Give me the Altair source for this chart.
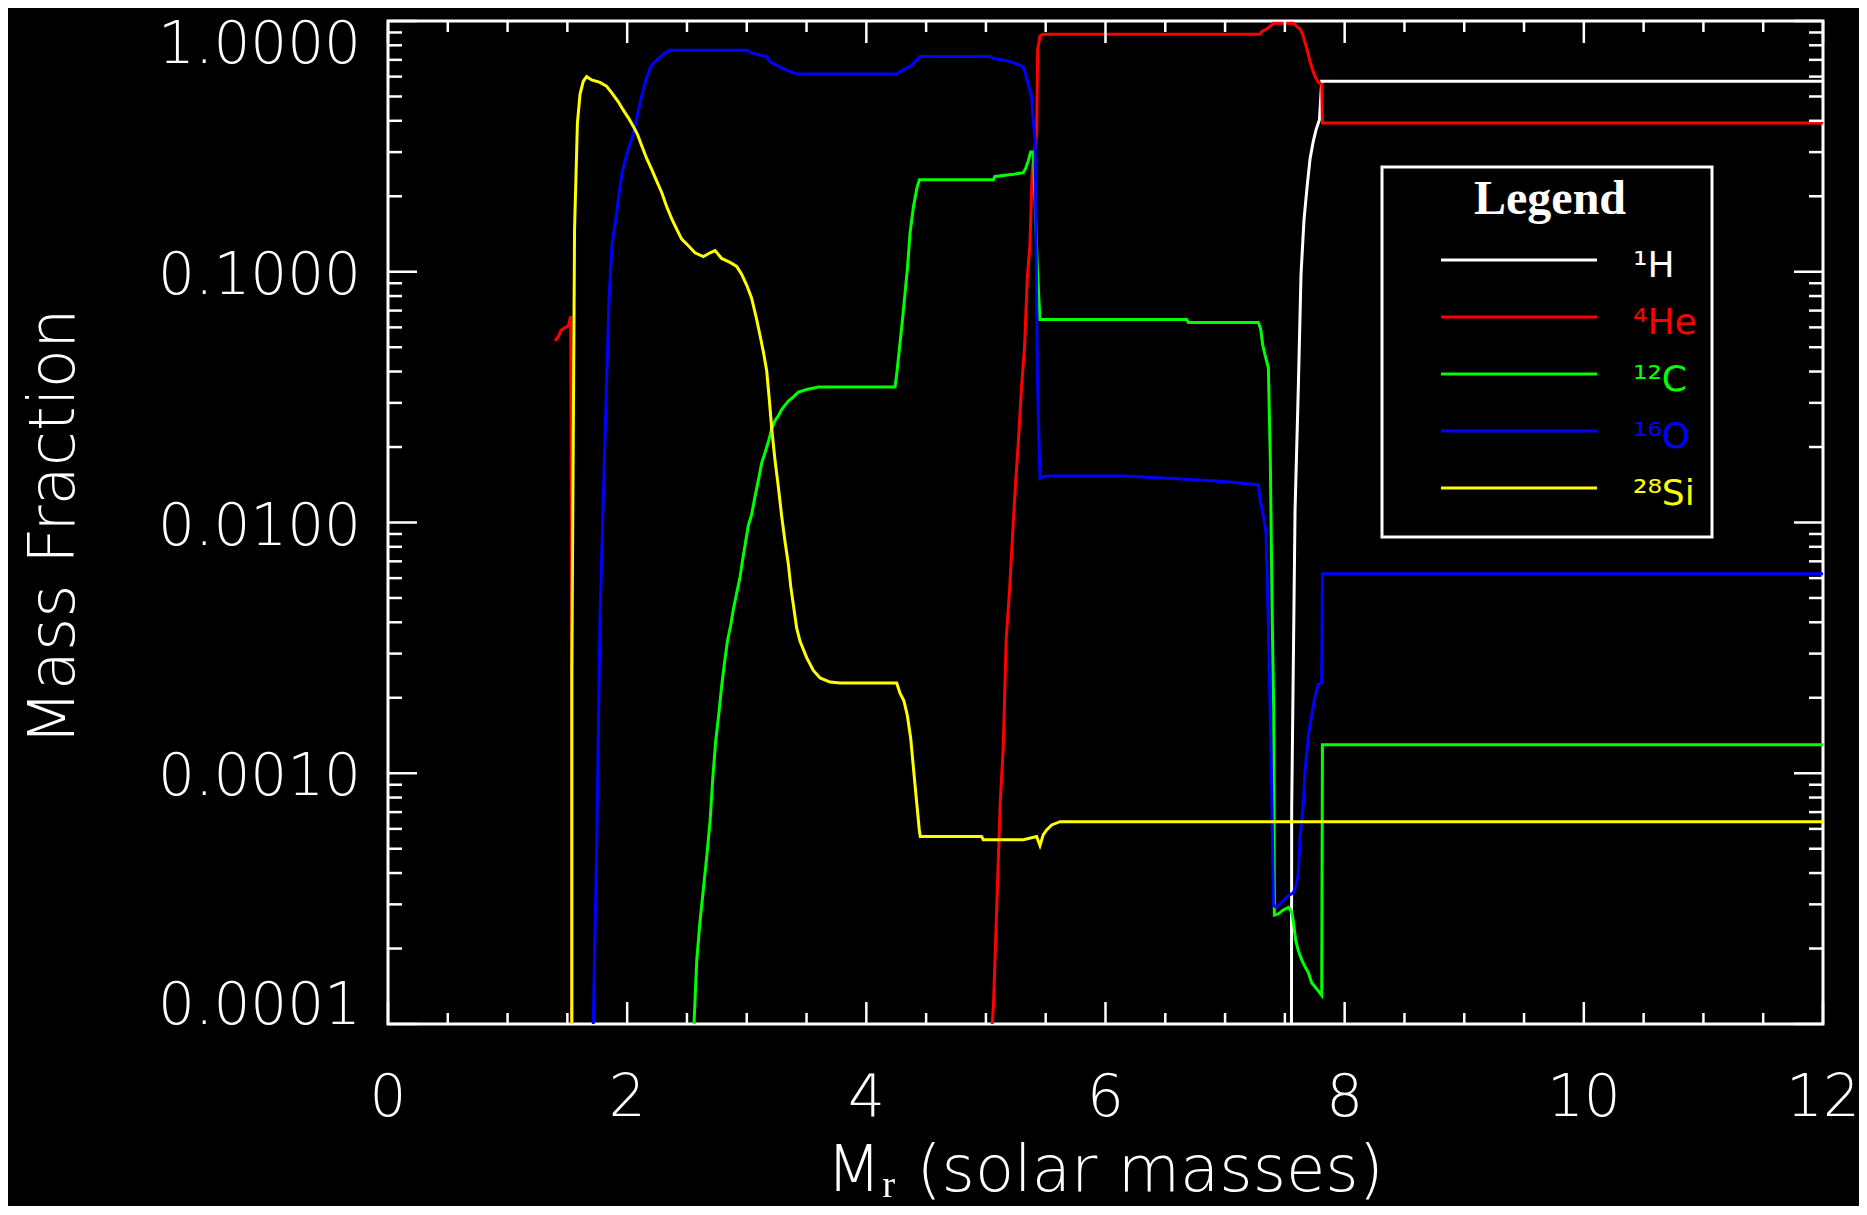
import altair as alt
import pandas as pd

# ---------------- data (mass coordinate M_r, mass fraction) ----------------
H1 = [(7.553, 0.00001), (7.557, 0.000722), (7.585, 0.01114), (7.613, 0.0353), (7.635, 0.0976),
      (7.660, 0.1614), (7.688, 0.2234), (7.711, 0.283), (7.738, 0.332), (7.761, 0.369),
      (7.789, 0.404), (7.808, 0.575), (12.0, 0.575)]

HE4_CORE = [(1.396, 0.0531), (1.424, 0.0550), (1.447, 0.0584), (1.480, 0.0598), (1.508, 0.0608),
            (1.528, 0.0665), (1.537, 0.0025), (1.537, 0.00001)]

HE4 = [(5.050, 0.00001), (5.053, 0.0001), (5.064, 0.000122), (5.092, 0.000306), (5.120, 0.000766),
       (5.145, 0.00127), (5.170, 0.00346), (5.198, 0.00540), (5.223, 0.00890), (5.248, 0.01429),
       (5.273, 0.0216), (5.298, 0.0347), (5.324, 0.0509), (5.346, 0.0948), (5.368, 0.1274),
       (5.388, 0.259), (5.405, 0.300), (5.424, 0.348), (5.433, 0.773), (5.452, 0.871),
       (5.480, 0.886), (7.292, 0.886), (7.306, 0.907), (7.348, 0.929), (7.376, 0.951),
       (7.404, 0.980), (7.571, 0.980), (7.599, 0.951), (7.627, 0.929), (7.649, 0.886),
       (7.669, 0.821), (7.691, 0.751), (7.711, 0.687), (7.733, 0.636), (7.752, 0.600),
       (7.780, 0.569), (7.808, 0.559), (7.814, 0.392), (12.0, 0.392)]

C12 = [(2.557, 0.00001), (2.559, 0.0001), (2.582, 0.000180), (2.609, 0.000256), (2.637, 0.000344),
       (2.665, 0.000463), (2.693, 0.000641), (2.715, 0.000941), (2.740, 0.00134), (2.768, 0.00175),
       (2.790, 0.00222), (2.813, 0.00273), (2.838, 0.00336), (2.866, 0.00389), (2.888, 0.00451),
       (2.916, 0.00523), (2.944, 0.00606), (2.966, 0.00711), (2.991, 0.00839), (3.013, 0.00973),
       (3.041, 0.01076), (3.069, 0.01270), (3.097, 0.01472), (3.125, 0.0173), (3.153, 0.0190),
       (3.181, 0.0210), (3.209, 0.0236), (3.237, 0.0255), (3.264, 0.0266), (3.292, 0.0282),
       (3.320, 0.0294), (3.348, 0.0305), (3.390, 0.0317), (3.432, 0.0331), (3.501, 0.0339),
       (3.599, 0.0347), (4.240, 0.0347), (4.254, 0.0390), (4.274, 0.0480), (4.297, 0.0608),
       (4.318, 0.0771), (4.344, 0.1036), (4.366, 0.1434), (4.394, 0.1816), (4.422, 0.2144),
       (4.444, 0.233), (5.062, 0.233), (5.076, 0.240), (5.216, 0.244), (5.313, 0.2485),
       (5.333, 0.259), (5.355, 0.278), (5.374, 0.300), (5.397, 0.300), (5.430, 0.1036),
       (5.452, 0.0645), (6.679, 0.0645), (6.693, 0.0627), (7.278, 0.0627), (7.298, 0.0591),
       (7.315, 0.0509), (7.334, 0.0466), (7.362, 0.0414), (7.378, 0.0181), (7.395, 0.00389),
       (7.407, 0.00175), (7.412, 0.000272), (7.446, 0.000275), (7.487, 0.000285), (7.529, 0.000292),
       (7.557, 0.000280), (7.571, 0.000256), (7.591, 0.000215), (7.613, 0.000196), (7.641, 0.000180),
       (7.669, 0.000169), (7.697, 0.000160), (7.724, 0.000146), (7.766, 0.000138), (7.808, 0.000130),
       (7.814, 0.00130), (12.0, 0.00130)]

O16 = [(1.706, 0.00001), (1.717, 0.000102), (1.745, 0.000506), (1.773, 0.00413), (1.798, 0.01128),
       (1.823, 0.0299), (1.848, 0.0771), (1.873, 0.1274), (1.884, 0.1392), (1.912, 0.1713),
       (1.935, 0.2106), (1.960, 0.2515), (1.988, 0.283), (2.010, 0.309), (2.038, 0.338),
       (2.066, 0.380), (2.088, 0.428), (2.113, 0.482), (2.135, 0.533), (2.163, 0.593),
       (2.185, 0.636), (2.205, 0.667), (2.233, 0.687), (2.261, 0.708), (2.303, 0.738),
       (2.358, 0.764), (3.000, 0.764), (3.055, 0.742), (3.167, 0.721), (3.195, 0.687),
       (3.250, 0.667), (3.334, 0.636), (3.418, 0.614), (4.254, 0.614), (4.310, 0.640),
       (4.365, 0.659), (4.407, 0.687), (4.449, 0.721), (5.034, 0.721), (5.062, 0.708),
       (5.174, 0.695), (5.257, 0.675), (5.313, 0.655), (5.333, 0.610), (5.355, 0.559),
       (5.383, 0.496), (5.397, 0.392), (5.411, 0.338), (5.430, 0.0390), (5.452, 0.01498),
       (5.494, 0.01534), (6.149, 0.01534), (6.680, 0.01489), (7.014, 0.01454), (7.278, 0.01412),
       (7.292, 0.01233), (7.320, 0.01063), (7.342, 0.00917), (7.362, 0.00389), (7.390, 0.000862),
       (7.404, 0.000297), (7.432, 0.000292), (7.487, 0.000310), (7.529, 0.000325), (7.571, 0.000334),
       (7.593, 0.000355), (7.613, 0.000399), (7.627, 0.000553), (7.655, 0.000766), (7.669, 0.00103),
       (7.697, 0.00142), (7.724, 0.00170), (7.752, 0.00203), (7.780, 0.00226), (7.808, 0.00229),
       (7.814, 0.00624), (12.0, 0.00624)]

SI28 = [(1.537, 0.00001), (1.537, 0.0025), (1.560, 0.148), (1.584, 0.392), (1.606, 0.511),
        (1.633, 0.575), (1.661, 0.600), (1.703, 0.582), (1.773, 0.569), (1.829, 0.549),
        (1.870, 0.518), (1.926, 0.476), (1.968, 0.441), (2.010, 0.411), (2.052, 0.380),
        (2.085, 0.354), (2.121, 0.319), (2.163, 0.283), (2.205, 0.256), (2.247, 0.230),
        (2.289, 0.207), (2.330, 0.182), (2.372, 0.163), (2.414, 0.148), (2.456, 0.135),
        (2.512, 0.127), (2.567, 0.119), (2.637, 0.115), (2.693, 0.119), (2.735, 0.1215),
        (2.790, 0.113), (2.860, 0.109), (2.916, 0.105), (2.958, 0.0976), (3.000, 0.0883),
        (3.041, 0.0785), (3.083, 0.0645), (3.111, 0.0557), (3.139, 0.0480), (3.167, 0.0402),
        (3.189, 0.0308), (3.209, 0.0236), (3.237, 0.0176), (3.264, 0.0139), (3.292, 0.0106),
        (3.320, 0.00839), (3.348, 0.00682), (3.368, 0.00555), (3.395, 0.00451), (3.418, 0.00378),
        (3.446, 0.00336), (3.501, 0.00289), (3.557, 0.00257), (3.613, 0.00240), (3.696, 0.00231),
        (3.780, 0.00229), (4.254, 0.00229), (4.281, 0.00209), (4.315, 0.00194), (4.343, 0.00170),
        (4.371, 0.00138), (4.393, 0.00106), (4.421, 0.000766), (4.443, 0.000594), (4.451, 0.000559),
        (4.964, 0.000559), (4.978, 0.000543), (5.313, 0.000543), (5.424, 0.000559), (5.452, 0.000515),
        (5.480, 0.000569), (5.508, 0.000594), (5.550, 0.000622), (5.620, 0.000641), (12.0, 0.000641)]

X_MAJOR = [0, 2, 4, 6, 8, 10, 12]
X_MINOR = [0.5, 1, 1.5, 2.5, 3, 3.5, 4.5, 5, 5.5, 6.5, 7, 7.5, 8.5, 9, 9.5, 10.5, 11, 11.5]
X_LABELS = ["0", "2", "4", "6", "8", "10", "12"]
Y_MAJOR = [0.0001, 0.001, 0.01, 0.1, 1.0]
Y_MINOR = [m * 10.0 ** e for e in range(-4, 0) for m in range(2, 10)]
Y_LABELS = ["0.0001", "0.0010", "0.0100", "0.1000", "1.0000"]

LEGEND_LABELS = ["¹H", "⁴He", "¹²C", "¹⁶O", "²⁸Si"]
COLORS = ["#ffffff", "#ff0000", "#00ff00", "#0000ff", "#ffff00"]
SERIES = [[H1], [HE4_CORE, HE4], [C12], [O16], [SI28]]

X_TITLE = "Mᵣ (solar masses)"
Y_TITLE = "Mass Fraction"

# ---------------- layout / style ----------------
W, H = 1435, 1003
FONT = "DejaVu Sans"
LW = 3

xs = alt.Scale(domain=[0, 12], nice=False, zero=False)
ys = alt.Scale(type="log", domain=[0.0001, 1], nice=False)

layers = []

# data lines (drawn in legend order: H, He, C, O, Si)
for segs, color in zip(SERIES, COLORS):
    rows = []
    for s, pts in enumerate(segs):
        for i, (m, f) in enumerate(pts):
            rows.append({"m": m, "frac": f, "seg": s, "i": i})
    df = pd.DataFrame(rows)
    layers.append(
        alt.Chart(df).mark_line(color=color, strokeWidth=LW, clip=True).encode(
            x=alt.X("m:Q", scale=xs, axis=None),
            y=alt.Y("frac:Q", scale=ys, axis=None),
            detail="seg:N",
            order="i:Q",
        )
    )

# inward tick marks on all four sides
def xticks(vals, length):
    d = pd.DataFrame({"t": vals})
    b = alt.Chart(d).mark_rule(color="white", strokeWidth=2.5)
    x = alt.X("t:Q", scale=xs, axis=None)
    return [b.encode(x=x, y=alt.value(H), y2=alt.value(H - length)),
            b.encode(x=x, y=alt.value(0), y2=alt.value(length))]

def yticks(vals, length):
    d = pd.DataFrame({"t": vals})
    b = alt.Chart(d).mark_rule(color="white", strokeWidth=2.5)
    y = alt.Y("t:Q", scale=ys, axis=None)
    return [b.encode(y=y, x=alt.value(0), x2=alt.value(length)),
            b.encode(y=y, x=alt.value(W), x2=alt.value(W - length))]

layers += xticks(X_MAJOR, 22) + xticks(X_MINOR, 11)
layers += yticks(Y_MAJOR, 29) + yticks(Y_MINOR, 14)

# tick labels
LBL = dict(font=FONT, fontSize=58, fontWeight=200, color="white")
xl = pd.DataFrame({"t": X_MAJOR, "lab": X_LABELS})
layers.append(
    alt.Chart(xl).mark_text(align="center", baseline="alphabetic", **LBL).encode(
        x=alt.X("t:Q", scale=xs, axis=None), y=alt.value(1095), text="lab:N")
)
yl = pd.DataFrame({"t": Y_MAJOR, "lab": Y_LABELS})
for filt, dy in [("datum.t > 0.5", 42), ("datum.t < 0.0002", 0),
                 ("datum.t > 0.0002 && datum.t < 0.5", 22)]:
    layers.append(
        alt.Chart(yl).transform_filter(filt).mark_text(align="right", baseline="alphabetic", dy=dy, **LBL).encode(
            x=alt.value(-27), y=alt.Y("t:Q", scale=ys, axis=None), text="lab:N")
    )

# axis titles
TTL = dict(font=FONT, fontSize=64, fontWeight=200, color="white")
layers.append(
    alt.Chart(pd.DataFrame({"s": [X_TITLE]})).mark_text(align="center", baseline="alphabetic", **TTL).encode(
        x=alt.value(717), y=alt.value(1170), text="s:N")
)
layers.append(
    alt.Chart(pd.DataFrame({"s": [Y_TITLE]})).mark_text(align="center", baseline="alphabetic", angle=270, **TTL).encode(
        x=alt.value(-314), y=alt.value(506), text="s:N")
)

# legend box
one = pd.DataFrame({"k": [0]})
layers.append(
    alt.Chart(one).mark_rect(fill="black", stroke="white", strokeWidth=3).encode(
        x=alt.value(994), x2=alt.value(1324), y=alt.value(146), y2=alt.value(516))
)
layers.append(
    alt.Chart(one).mark_text(text="Legend", font="Liberation Serif", fontWeight="bold", fontSize=48,
                             color="white", align="center", baseline="alphabetic").encode(
        x=alt.value(1162), y=alt.value(193))
)
for i, (lab, col) in enumerate(zip(LEGEND_LABELS, COLORS)):
    yy = 239 + 57 * i
    layers.append(
        alt.Chart(one).mark_rule(color=col, strokeWidth=LW).encode(
            x=alt.value(1053), x2=alt.value(1209), y=alt.value(yy))
    )
    layers.append(
        alt.Chart(one).mark_text(text=lab, font=FONT, fontSize=36, color=col,
                                 align="left", baseline="alphabetic").encode(
            x=alt.value(1245), y=alt.value(yy + 17))
    )

chart = alt.layer(*layers).properties(
    width=W, height=H, background="black",
    padding={"left": 380, "top": 13, "right": 36, "bottom": 182},
    autosize=alt.AutoSizeParams(type="none"),
).configure_view(stroke="white", strokeWidth=3)

chart.save("out.html", embed_options={"renderer": "svg", "actions": False})
